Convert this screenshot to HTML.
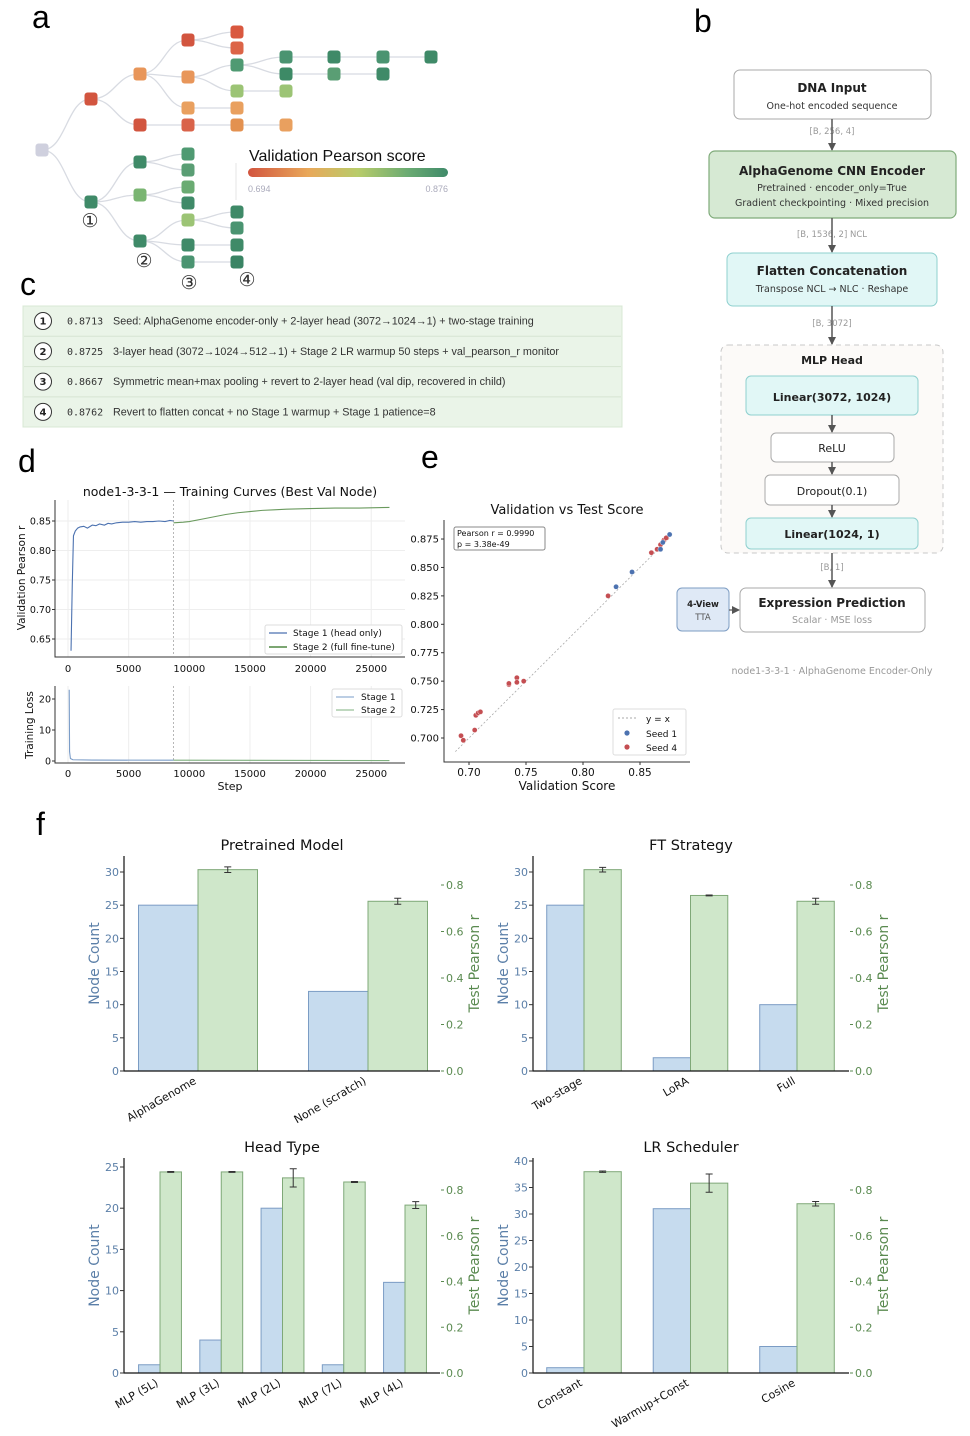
<!DOCTYPE html>
<html><head><meta charset="utf-8">
<style>
html,body{margin:0;padding:0;background:#fff;}
svg{display:block;}
text{font-family:"DejaVu Sans","Liberation Sans",sans-serif;}
.mono{font-family:"DejaVu Sans Mono","Liberation Mono",monospace;}
.hel{font-family:"Liberation Sans","DejaVu Sans",sans-serif;}
</style></head>
<body>
<svg id="fig" width="970" height="1436" viewBox="0 0 970 1436" xmlns="http://www.w3.org/2000/svg">
<defs>
<linearGradient id="cbar" x1="0" x2="1" y1="0" y2="0">
<stop offset="0" stop-color="#d2553f"/><stop offset="0.3" stop-color="#e9a85a"/><stop offset="0.55" stop-color="#b8cc6a"/><stop offset="0.8" stop-color="#6aab72"/><stop offset="1" stop-color="#3f8a6a"/>
</linearGradient>
<marker id="arr" markerWidth="8" markerHeight="8" refX="7" refY="4" orient="auto" markerUnits="userSpaceOnUse"><path d="M0,0 L8,4 L0,8 z" fill="#555"/></marker>
</defs>

<text class="hel" x="32" y="28" font-size="32">a</text>
<text class="hel" x="694" y="32" font-size="32">b</text>
<text class="hel" x="20" y="295" font-size="32">c</text>
<text class="hel" x="18" y="472" font-size="32">d</text>
<text class="hel" x="421" y="468" font-size="32">e</text>
<text class="hel" x="36" y="835" font-size="32">f</text>

<g id="tree"></g>
<g>
<text class="hel" x="249" y="161" font-size="16" fill="#111">Validation Pearson score</text>
<rect x="248" y="168" width="200" height="9" rx="4.5" fill="url(#cbar)"/>
<line x1="236" y1="163" x2="236" y2="200" stroke="#e4e4e4"/>
<text class="hel" x="248" y="192" font-size="9" fill="#aab">0.694</text>
<text class="hel" x="448" y="192" font-size="9" fill="#aab" text-anchor="end">0.876</text>
</g>

<g id="panelc">
<rect x="23" y="306" width="599" height="121" fill="#eaf4e8" stroke="#d8e8d4"/>
</g>

<g id="panelb">
<rect x="734" y="70" width="197" height="49" rx="6" fill="#fff" stroke="#aaa"/>
<text x="832" y="92" font-size="12" font-weight="bold" text-anchor="middle" fill="#222">DNA Input</text>
<text x="832" y="109" font-size="9.5" text-anchor="middle" fill="#333">One-hot encoded sequence</text>
<text x="832" y="134" font-size="8.5" text-anchor="middle" fill="#999">[B, 256, 4]</text>
<line x1="832" y1="119" x2="832" y2="150" stroke="#555" stroke-width="1.5" marker-end="url(#arr)"/>
<rect x="709" y="151" width="247" height="67" rx="6" fill="#d6e9d3" stroke="#7fab7a" stroke-width="1.2"/>
<text x="832" y="175" font-size="12" font-weight="bold" text-anchor="middle" fill="#222">AlphaGenome CNN Encoder</text>
<text x="832" y="191" font-size="9.5" text-anchor="middle" fill="#333">Pretrained · encoder_only=True</text>
<text x="832" y="206" font-size="9.5" text-anchor="middle" fill="#333">Gradient checkpointing · Mixed precision</text>
<text x="832" y="237" font-size="8.5" text-anchor="middle" fill="#999">[B, 1536, 2] NCL</text>
<line x1="832" y1="218" x2="832" y2="252" stroke="#555" stroke-width="1.5" marker-end="url(#arr)"/>
<rect x="727" y="253" width="210" height="53" rx="6" fill="#e1f7f6" stroke="#8fd0cf"/>
<text x="832" y="275" font-size="12" font-weight="bold" text-anchor="middle" fill="#222">Flatten Concatenation</text>
<text x="832" y="292" font-size="9.5" text-anchor="middle" fill="#333">Transpose NCL → NLC · Reshape</text>
<text x="832" y="326" font-size="8.5" text-anchor="middle" fill="#999">[B, 3072]</text>
<line x1="832" y1="306" x2="832" y2="344" stroke="#555" stroke-width="1.5" marker-end="url(#arr)"/>
<rect x="721" y="345" width="222" height="208" rx="7" fill="#fcfaf8" stroke="#c8c8c8" stroke-dasharray="5,4"/>
<text x="832" y="364" font-size="11" font-weight="bold" text-anchor="middle" fill="#222">MLP Head</text>
<rect x="746" y="376" width="172" height="39" rx="5" fill="#e1f7f6" stroke="#8fd0cf"/>
<text x="832" y="401" font-size="11" font-weight="bold" text-anchor="middle" fill="#222">Linear(3072, 1024)</text>
<line x1="832" y1="415" x2="832" y2="432" stroke="#555" stroke-width="1.5" marker-end="url(#arr)"/>
<rect x="771" y="433" width="123" height="29" rx="5" fill="#fff" stroke="#aaa"/>
<text x="832" y="452" font-size="11" text-anchor="middle" fill="#222">ReLU</text>
<line x1="832" y1="462" x2="832" y2="474" stroke="#555" stroke-width="1.5" marker-end="url(#arr)"/>
<rect x="765" y="475" width="134" height="30" rx="5" fill="#fff" stroke="#aaa"/>
<text x="832" y="495" font-size="11" text-anchor="middle" fill="#222">Dropout(0.1)</text>
<line x1="832" y1="505" x2="832" y2="517" stroke="#555" stroke-width="1.5" marker-end="url(#arr)"/>
<rect x="746" y="518" width="172" height="31" rx="5" fill="#e1f7f6" stroke="#8fd0cf"/>
<text x="832" y="538" font-size="11" font-weight="bold" text-anchor="middle" fill="#222">Linear(1024, 1)</text>
<text x="832" y="570" font-size="8.5" text-anchor="middle" fill="#999">[B, 1]</text>
<line x1="832" y1="553" x2="832" y2="587" stroke="#555" stroke-width="1.5" marker-end="url(#arr)"/>
<rect x="740" y="588" width="185" height="44" rx="6" fill="#fff" stroke="#aaa"/>
<text x="832" y="607" font-size="12" font-weight="bold" text-anchor="middle" fill="#222">Expression Prediction</text>
<text x="832" y="623" font-size="9.5" text-anchor="middle" fill="#999">Scalar · MSE loss</text>
<rect x="677" y="588" width="52" height="43" rx="5" fill="#dfe9f6" stroke="#7e9dc3"/>
<text x="703" y="607" font-size="8.5" font-weight="bold" text-anchor="middle" fill="#222">4-View</text>
<text x="703" y="620" font-size="8.5" text-anchor="middle" fill="#555">TTA</text>
<line x1="729" y1="610" x2="739" y2="610" stroke="#555" stroke-width="1.2" marker-end="url(#arr)"/>
<text x="832" y="674" font-size="9.5" text-anchor="middle" fill="#999">node1-3-3-1 · AlphaGenome Encoder-Only</text>
</g>

<g id="paneld"></g>
<g id="panele"></g>
<g id="panelf"></g>
</svg>

<script>
const NS='http://www.w3.org/2000/svg';
function mk(parent,tag,attrs,txt){const e=document.createElementNS(NS,tag);for(const k in attrs)e.setAttribute(k,attrs[k]);if(txt!==undefined)e.textContent=txt;parent.appendChild(e);return e;}

/* ---------- panel a: tree ---------- */
const treeNodes=[
 [42,150,'#cfd0de'],[91,99,'#d2553f'],[140,74,'#e8965a'],[188,40,'#d2553f'],[237,32,'#d9583f'],[237,48,'#dc6447'],
 [237,65,'#4f9a72'],[286,57,'#4a9471'],[286,74,'#3d8a66'],[334,57,'#3f8a68'],[334,74,'#5a9e74'],[383,57,'#4a9471'],[383,74,'#3f8a68'],[431,57,'#3f8a68'],
 [188,77,'#e8965a'],[237,91,'#9cc475'],[286,91,'#9cc475'],[188,108,'#e9a05f'],[237,108,'#e9a05f'],
 [140,125,'#d2553f'],[188,125,'#d9634a'],[237,125,'#e39150'],[286,125,'#e9a05f'],
 [91,202,'#3f8a68'],[140,162,'#3f8a68'],[188,154,'#4f9a72'],[188,170,'#5a9e74'],[140,195,'#7ab572'],[188,187,'#6aab72'],[188,203,'#3f8a68'],
 [140,241,'#3f8a68'],[188,220,'#9cc475'],[237,212,'#3f8a68'],[237,228,'#4a9471'],[188,245,'#3f8a68'],[237,245,'#3f8a68'],[188,262,'#4a9471'],[237,262,'#3a8464']
];
const treeEdges=[[0,1],[0,23],[1,2],[1,19],[2,3],[2,14],[2,17],[3,4],[3,5],[14,6],[14,15],[6,7],[6,8],[7,9],[9,11],[11,13],[8,10],[10,12],[15,16],[17,18],[19,20],[20,21],[21,22],
 [23,24],[23,27],[23,30],[24,25],[24,26],[27,28],[27,29],[30,31],[30,34],[30,36],[31,32],[31,33],[34,35],[36,37]];
const tree=document.getElementById('tree');
treeEdges.forEach(([a,b])=>{const p=treeNodes[a],q=treeNodes[b];const mx=(p[0]+q[0])/2;
 const e=mk(tree,'path',{d:`M${p[0]},${p[1]} C${mx},${p[1]} ${mx},${q[1]} ${q[0]},${q[1]}`,fill:'none',stroke:'#d8dbe2','stroke-width':1.3});
 
 });
treeNodes.forEach(([x,y,c],i)=>{const r=mk(tree,'rect',{x:x-6.5,y:y-6.5,width:13,height:13,rx:3,fill:c});
 
 });
[['①',90,227],['②',144,267],['③',189,289],['④',247,286]].forEach(([t,x,y])=>{const e=mk(tree,'text',{x,y,'font-size':19,'text-anchor':'middle',fill:'#333',class:'hel'},t);
 
 });

/* ---------- panel c ---------- */
const lineageScores=['0.8713','0.8725','0.8667','0.8762'];
const lineageDesc=['Seed: AlphaGenome encoder-only + 2-layer head (3072→1024→1) + two-stage training',
 '3-layer head (3072→1024→512→1) + Stage 2 LR warmup 50 steps + val_pearson_r monitor',
 'Symmetric mean+max pooling + revert to 2-layer head (val dip, recovered in child)',
 'Revert to flatten concat + no Stage 1 warmup + Stage 1 patience=8'];
const pc=document.getElementById('panelc');
lineageScores.forEach((s,i)=>{const y=321+i*30.3;
 if(i>0){const l=mk(pc,'line',{x1:24,x2:621,y1:y-15,y2:y-15,stroke:'#d6e4d2'});}
 const c=mk(pc,'circle',{cx:43,cy:y,r:8.5,fill:'#fff',stroke:'#333','stroke-width':1});
 
 
 mk(pc,'text',{x:43,y:y+3.5,'font-size':10,'font-weight':'bold','text-anchor':'middle',fill:'#222'},String(i+1));
 const v=mk(pc,'text',{x:67,y:y+3.5,'font-size':10,fill:'#333',class:'mono'},s);
 
 
 const d=mk(pc,'text',{x:113,y:y+3.5,'font-size':10.8,fill:'#333',class:'hel'},lineageDesc[i]);
 
 
});

/* ---------- panel d ---------- */
const stage1Steps=[250,350,450,600,800,1000,1300,1600,2000,2300,2600,3000,3300,3600,4000,4500,5000,5500,6000,6500,7000,7500,8000,8400,8700];
const stage1Vals=[0.63,0.74,0.825,0.833,0.838,0.840,0.841,0.838,0.843,0.842,0.845,0.843,0.846,0.845,0.847,0.848,0.848,0.849,0.848,0.849,0.849,0.850,0.849,0.851,0.850];
const stage2Steps=[8700,9500,10000,11000,12000,13000,14000,15000,16000,17000,18000,20000,22000,24000,26500];
const stage2Vals=[0.847,0.848,0.849,0.853,0.857,0.861,0.864,0.866,0.868,0.869,0.870,0.871,0.872,0.872,0.873];
const loss1Steps=[100,130,200,400,2000,8700];
const loss1Vals=[23,3,0.8,0.4,0.3,0.25];
const loss2Steps=[8700,26500];
const loss2Vals=[0.25,0.15];
const xTicksD=[0,5000,10000,15000,20000,25000];
const yTicksTop=[0.65,0.70,0.75,0.80,0.85];
const yTicksLoss=[0,10,20];
const stageBoundary=8700;
const pd=document.getElementById('paneld');
const xD=s=>68+s*0.01213;
const yTop=v=>521+(0.85-v)*590;
const yLoss=v=>761-v*3.1;
mk(pd,'text',{x:230,y:496,'font-size':12.5,'text-anchor':'middle',fill:'#111'},'node1-3-3-1 — Training Curves (Best Val Node)');
xTicksD.forEach(t=>{mk(pd,'line',{x1:xD(t),x2:xD(t),y1:500,y2:657,stroke:'#eee'});mk(pd,'line',{x1:xD(t),x2:xD(t),y1:686,y2:763,stroke:'#eee'});
 mk(pd,'text',{x:xD(t),y:672,'font-size':10,'text-anchor':'middle',fill:'#111'},String(t));
 mk(pd,'text',{x:xD(t),y:777,'font-size':10,'text-anchor':'middle',fill:'#111'},String(t));});
yTicksTop.forEach(t=>{mk(pd,'line',{x1:55,x2:405,y1:yTop(t),y2:yTop(t),stroke:'#eee'});mk(pd,'text',{x:51,y:yTop(t)+3.5,'font-size':9.5,'text-anchor':'end',fill:'#111'},t.toFixed(2));mk(pd,'line',{x1:52,x2:55,y1:yTop(t),y2:yTop(t),stroke:'#333'});});
yTicksLoss.forEach(t=>{mk(pd,'text',{x:51,y:yLoss(t)+3.5,'font-size':9.5,'text-anchor':'end',fill:'#111'},String(t));mk(pd,'line',{x1:52,x2:55,y1:yLoss(t),y2:yLoss(t),stroke:'#333'});});
mk(pd,'path',{d:'M55,500 V657 H405',fill:'none',stroke:'#333','stroke-width':1});
mk(pd,'path',{d:'M55,686 V763 H405',fill:'none',stroke:'#333','stroke-width':1});
mk(pd,'line',{x1:xD(stageBoundary),x2:xD(stageBoundary),y1:500,y2:657,stroke:'#999','stroke-dasharray':'2,2','stroke-width':0.7});
mk(pd,'line',{x1:xD(stageBoundary),x2:xD(stageBoundary),y1:686,y2:763,stroke:'#999','stroke-dasharray':'2,2','stroke-width':0.7});
function poly(g,xs,ys,fx,fy,col,name){const p=mk(g,'polyline',{points:xs.map((s,i)=>fx(s)+','+fy(ys[i])).join(' '),fill:'none',stroke:col,'stroke-width':1.1});
 
 }
poly(pd,stage1Steps,stage1Vals,xD,yTop,'#4c72b0','stage1-val-line');
poly(pd,stage2Steps,stage2Vals,xD,yTop,'#6a9a5e','stage2-val-line');
poly(pd,loss1Steps,loss1Vals,xD,yLoss,'#7a9cc8','stage1-loss-line');
poly(pd,loss2Steps,loss2Vals,xD,yLoss,'#7fb07f','stage2-loss-line');
mk(pd,'text',{x:25,y:578,'font-size':10.5,'text-anchor':'middle',fill:'#111',transform:'rotate(-90 25 578)'},'Validation Pearson r');
mk(pd,'text',{x:33,y:725,'font-size':10.5,'text-anchor':'middle',fill:'#111',transform:'rotate(-90 33 725)'},'Training Loss');
mk(pd,'text',{x:230,y:790,'font-size':11,'text-anchor':'middle',fill:'#111'},'Step');
let lg=mk(pd,'g',{});
mk(lg,'rect',{x:265,y:625,width:137,height:29,rx:2,fill:'#fff',stroke:'#ddd'});
mk(lg,'line',{x1:269,x2:287,y1:633,y2:633,stroke:'#4c72b0','stroke-width':1.2});
mk(lg,'line',{x1:269,x2:287,y1:647,y2:647,stroke:'#6a9a5e','stroke-width':1.8});
mk(lg,'text',{x:293,y:636,'font-size':9,fill:'#111'},'Stage 1 (head only)');
mk(lg,'text',{x:293,y:650,'font-size':9,fill:'#111'},'Stage 2 (full fine-tune)');
lg=mk(pd,'g',{});
mk(lg,'rect',{x:332,y:689,width:70,height:28,rx:2,fill:'#fff',stroke:'#ddd'});
mk(lg,'line',{x1:336,x2:354,y1:697,y2:697,stroke:'#7a9cc8'});
mk(lg,'line',{x1:336,x2:354,y1:710,y2:710,stroke:'#7fb07f'});
mk(lg,'text',{x:361,y:700,'font-size':9,fill:'#111'},'Stage 1');
mk(lg,'text',{x:361,y:713,'font-size':9,fill:'#111'},'Stage 2');

/* ---------- panel e ---------- */
const seed4Val=[0.693,0.695,0.705,0.706,0.708,0.710,0.735,0.735,0.742,0.742,0.748,0.822,0.860,0.865,0.868,0.871,0.873];
const seed4Test=[0.702,0.698,0.707,0.720,0.722,0.723,0.747,0.748,0.753,0.749,0.750,0.825,0.863,0.866,0.870,0.874,0.876];
const seed1Val=[0.829,0.843,0.868,0.870,0.876];
const seed1Test=[0.833,0.846,0.866,0.872,0.879];
const eTicks=[0.70,0.75,0.80,0.85];
const eYTicks=[0.700,0.725,0.750,0.775,0.800,0.825,0.850,0.875];
const pe=document.getElementById('panele');
const xE=v=>469+(v-0.70)*1140;
const yE=v=>738-(v-0.70)*1137;
mk(pe,'text',{x:567,y:514,'font-size':13,'text-anchor':'middle',fill:'#111'},'Validation vs Test Score');
mk(pe,'path',{d:'M444,520 V762 H690',fill:'none',stroke:'#333'});
eTicks.forEach(t=>{mk(pe,'line',{x1:xE(t),x2:xE(t),y1:762,y2:765,stroke:'#333'});mk(pe,'text',{x:xE(t),y:776,'font-size':10.5,'text-anchor':'middle',fill:'#111'},t.toFixed(2));});
eYTicks.forEach(t=>{mk(pe,'line',{x1:441,x2:444,y1:yE(t),y2:yE(t),stroke:'#333'});mk(pe,'text',{x:439,y:yE(t)+3.5,'font-size':10,'text-anchor':'end',fill:'#111'},t.toFixed(3));});
mk(pe,'line',{x1:xE(0.688),y1:yE(0.688),x2:xE(0.876),y2:yE(0.876),stroke:'#aaa','stroke-dasharray':'2,2','stroke-width':0.8});
seed4Val.forEach((v,i)=>{const c=mk(pe,'circle',{cx:xE(v),cy:yE(seed4Test[i]),r:2.6,fill:'#c44e52',stroke:'#fff','stroke-width':0.4});
 
 });
seed1Val.forEach((v,i)=>{const c=mk(pe,'circle',{cx:xE(v),cy:yE(seed1Test[i]),r:2.6,fill:'#4c72b0',stroke:'#fff','stroke-width':0.4});
 
 });
mk(pe,'text',{x:567,y:790,'font-size':12,'text-anchor':'middle',fill:'#111'},'Validation Score');
lg=mk(pe,'g',{});
mk(lg,'rect',{x:454,y:527,width:91,height:23,rx:2,fill:'#fff',stroke:'#888'});
mk(lg,'text',{x:457,y:536,'font-size':8,fill:'#111'},'Pearson r = 0.9990');
mk(lg,'text',{x:457,y:547,'font-size':8,fill:'#111'},'p = 3.38e-49');
lg=mk(pe,'g',{});
mk(lg,'rect',{x:613,y:709,width:73,height:46,rx:2,fill:'#fff',stroke:'#ddd'});
mk(lg,'line',{x1:618,x2:636,y1:718,y2:718,stroke:'#aaa','stroke-dasharray':'2,2'});
mk(lg,'circle',{cx:627,cy:733,r:2.6,fill:'#4c72b0'});
mk(lg,'circle',{cx:627,cy:747,r:2.6,fill:'#c44e52'});
mk(lg,'text',{x:646,y:722,'font-size':9,fill:'#111'},'y = x');
mk(lg,'text',{x:646,y:737,'font-size':9,fill:'#111'},'Seed 1');
mk(lg,'text',{x:646,y:751,'font-size':9,fill:'#111'},'Seed 4');

/* ---------- panel f ---------- */
const ptCats=['AlphaGenome','None (scratch)'];
const ptCounts=[25,12];
const ptPearson=[0.866,0.73];
const ptErr=[0.012,0.013];
const ftCats=['Two-stage','LoRA','Full'];
const ftCounts=[25,2,10];
const ftPearson=[0.866,0.755,0.73];
const ftErr=[0.01,0.002,0.013];
const htCats=['MLP (5L)','MLP (3L)','MLP (2L)','MLP (7L)','MLP (4L)'];
const htCounts=[1,4,20,1,11];
const htPearson=[0.879,0.879,0.853,0.835,0.734];
const htErr=[0.002,0.002,0.04,0.002,0.015];
const lrCats=['Constant','Warmup+Const','Cosine'];
const lrCounts=[1,31,5];
const lrPearson=[0.88,0.83,0.74];
const lrErr=[0.003,0.04,0.01];
const countTicks1=[0,5,10,15,20,25,30];
const countTicks3=[0,5,10,15,20,25];
const countTicks4=[0,5,10,15,20,25,30,35,40];
const pearsonTicks=[0.0,0.2,0.4,0.6,0.8];
const pf=document.getElementById('panelf');
function barChart(o){
 const g=mk(pf,'g',{});
 
 
 const yL=v=>o.y0-v*o.lpx, yR=v=>o.y0-v*o.rpx, xg=i=>o.gx0+i*o.gstep, bw=o.gstep*0.35;
 mk(g,'text',{x:(o.x0+o.x1)/2,y:o.top-6,'font-size':14.5,'text-anchor':'middle',fill:'#111'},o.title);
 o.counts.forEach((v,i)=>{const r=mk(g,'rect',{x:xg(i)-bw,y:yL(v),width:bw,height:v*o.lpx,fill:'#c6dbee',stroke:'#7b9cc4','stroke-width':1});
  
  });
 o.pearson.forEach((v,i)=>{const r=mk(g,'rect',{x:xg(i),y:yR(v),width:bw,height:v*o.rpx,fill:'#cfe7ca',stroke:'#7fa878','stroke-width':1});
  
  
  const cx=xg(i)+bw/2,a=yR(v+o.err[i]),b=yR(v-o.err[i]);
  const e=mk(g,'path',{d:`M${cx},${a} V${b} M${cx-3.5},${a} H${cx+3.5} M${cx-3.5},${b} H${cx+3.5}`,stroke:'#333','stroke-width':1,fill:'none'});
  
  
  const lx=xg(i)-1,ly=o.y0+12;
  const lbl=mk(g,'text',{x:lx,y:ly,'font-size':11,'text-anchor':'end',fill:'#111',transform:`rotate(-30 ${lx} ${ly})`},o.cats[i]);
  
  });
 mk(g,'path',{d:`M${o.x0},${o.top} V${o.y0} H${o.x1}`,fill:'none',stroke:'#111','stroke-width':1.2});
 o.cticks.forEach(t=>{mk(g,'line',{x1:o.x0-4,x2:o.x0,y1:yL(t),y2:yL(t),stroke:'#333'});mk(g,'text',{x:o.x0-5,y:yL(t)+4,'font-size':11,'text-anchor':'end',fill:'#5b7fa8'},String(t));});
 pearsonTicks.forEach(t=>{mk(g,'line',{x1:o.x1+1,x2:o.x1+4,y1:yR(t),y2:yR(t),stroke:'#5a8a50'});mk(g,'text',{x:o.x1+6,y:yR(t)+4,'font-size':11,fill:'#5a8a50'},t.toFixed(1));});
 const my=(o.top+o.y0)/2;
 mk(g,'text',{x:o.x0-25,y:my,'font-size':14,'text-anchor':'middle',fill:'#5b7fa8',transform:`rotate(-90 ${o.x0-25} ${my})`},'Node Count');
 mk(g,'text',{x:o.x1+39,y:my,'font-size':14,'text-anchor':'middle',fill:'#5a8a50',transform:`rotate(-90 ${o.x1+39} ${my})`},'Test Pearson r');
}
barChart({name:'pretrained-model-chart',title:'Pretrained Model',cats:ptCats,counts:ptCounts,pearson:ptPearson,err:ptErr,x0:124,x1:440,top:856,y0:1071,lpx:6.633,rpx:232.5,gx0:198,gstep:170,cticks:countTicks1});
barChart({name:'ft-strategy-chart',title:'FT Strategy',cats:ftCats,counts:ftCounts,pearson:ftPearson,err:ftErr,x0:533,x1:849,top:856,y0:1071,lpx:6.633,rpx:232.5,gx0:584,gstep:106.5,cticks:countTicks1});
barChart({name:'head-type-chart',title:'Head Type',cats:htCats,counts:htCounts,pearson:htPearson,err:htErr,x0:124,x1:440,top:1158,y0:1373,lpx:8.24,rpx:228.75,gx0:160,gstep:61.25,cticks:countTicks3});
barChart({name:'lr-scheduler-chart',title:'LR Scheduler',cats:lrCats,counts:lrCounts,pearson:lrPearson,err:lrErr,x0:533,x1:849,top:1158,y0:1373,lpx:5.3,rpx:228.75,gx0:584,gstep:106.5,cticks:countTicks4});
</script>
</body></html>
